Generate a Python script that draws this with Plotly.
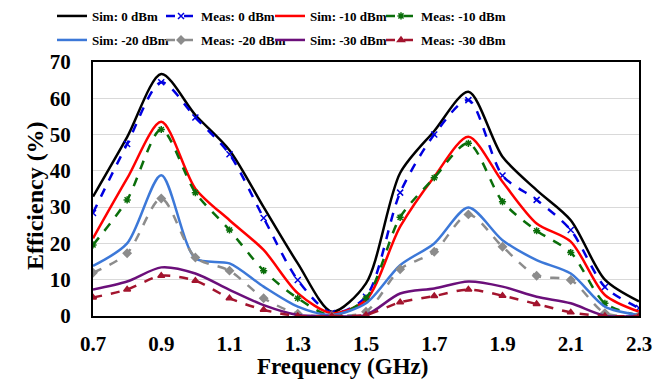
import plotly.graph_objects as go

freq = [0.7, 0.8, 0.9, 1.0, 1.1, 1.2, 1.3, 1.4, 1.5, 1.6, 1.7, 1.8, 1.9, 2.0, 2.1, 2.2, 2.3]

sim_0 = [32.9, 49.3, 66.7, 55.4, 45.7, 30.0, 14.5, 1.2, 9.0, 39.4, 51.0, 61.8, 43.9, 34.7, 26.4, 10.0, 4.0]
meas_0 = [28.4, 47.4, 64.4, 54.7, 44.6, 27.0, 9.9, 0.8, 5.3, 34.0, 50.0, 59.5, 38.7, 32.0, 23.7, 8.0, 2.2]
sim_10 = [21.4, 37.9, 53.5, 35.1, 26.4, 18.2, 6.3, 0.8, 4.4, 24.6, 38.4, 49.4, 37.0, 25.5, 20.5, 5.8, 1.2]
meas_10 = [19.6, 32.0, 51.4, 34.0, 23.7, 12.5, 4.9, 0.1, 4.9, 27.2, 38.1, 47.6, 31.5, 23.5, 17.5, 3.5, 0.1]
sim_20 = [13.8, 20.0, 38.8, 15.9, 14.5, 8.1, 2.6, 0.3, 3.5, 14.0, 20.0, 29.9, 20.9, 15.4, 11.7, 2.6, 0.3]
meas_20 = [11.9, 17.3, 32.4, 16.1, 12.5, 4.9, 0.6, 0.0, 1.2, 12.9, 17.7, 28.0, 19.1, 11.1, 9.9, 0.8, 0.0]
sim_30 = [7.3, 9.5, 13.4, 11.7, 7.2, 3.0, 0.3, 0.0, 0.3, 6.2, 7.6, 9.5, 8.1, 5.3, 3.5, 0.1, 0.0]
meas_30 = [5.1, 7.3, 11.1, 9.7, 4.9, 1.7, 0.0, 0.0, 0.3, 3.8, 5.5, 7.3, 5.6, 3.3, 1.0, 0.0, 0.0]

x_ticks = [0.7, 0.9, 1.1, 1.3, 1.5, 1.7, 1.9, 2.1, 2.3]
x_tick_labels = ["0.7", "0.9", "1.1", "1.3", "1.5", "1.7", "1.9", "2.1", "2.3"]

series = [
    ("Sim: 0 dBm", sim_0, "#000000", "solid", None),
    ("Meas: 0 dBm", meas_0, "#0000E0", "dash", "x-thin"),
    ("Sim: -10 dBm", sim_10, "#FF0000", "solid", None),
    ("Meas: -10 dBm", meas_10, "#0A6E0A", "dash", "asterisk"),
    ("Sim: -20 dBm", sim_20, "#3C78D8", "solid", None),
    ("Meas: -20 dBm", meas_20, "#8C8C8C", "dash", "diamond"),
    ("Sim: -30 dBm", sim_30, "#6B0F7A", "solid", None),
    ("Meas: -30 dBm", meas_30, "#A3142E", "dash", "triangle-up"),
]

font_family = "Liberation Serif"
W, H = 670, 387
col_px = [52, 161, 270, 381]
row_px = [16, 40]

fig = go.Figure()
legends = {}
for i, (name, vals, color, dash, sym) in enumerate(series):
    mode = "lines+markers" if sym else "lines"
    marker = dict(symbol=sym, size=6, color=color, line=dict(color=color, width=1.5)) if sym else None
    leg_name = "legend" if i == 0 else f"legend{i + 1}"
    fig.add_trace(go.Scatter(
        x=freq, y=vals, name=name, mode=mode,
        line=dict(color=color, width=2.5, dash=dash, shape="spline", smoothing=0.8),
        marker=marker,
        legend=leg_name,
    ))
    legends[leg_name] = dict(
        orientation="h", xref="container", yref="container",
        x=col_px[i % 4] / W, y=1 - row_px[i // 4] / H,
        xanchor="left", yanchor="middle",
        font=dict(family=font_family, size=13, color="black", weight="bold"),
        itemwidth=30, bgcolor="rgba(0,0,0,0)",
    )

fig.update_layout(
    width=W, height=H,
    margin=dict(l=93, r=31, t=62, b=71, autoexpand=False),
    paper_bgcolor="white", plot_bgcolor="white",
    font=dict(family=font_family, color="black"),
    showlegend=True,
    **legends,
)
fig.update_xaxes(
    range=[0.7, 2.3], tickvals=x_ticks, ticktext=x_tick_labels,
    showgrid=False, showline=True, linecolor="black", linewidth=2, mirror=True,
    ticks="", ticklabelstandoff=8,
    tickfont=dict(family=font_family, size=21, color="black", weight="bold"),
    zeroline=False,
)
fig.update_yaxes(
    range=[0, 70], dtick=10,
    showgrid=True, gridcolor="#D9D9D9", gridwidth=1,
    showline=True, linecolor="black", linewidth=2, mirror=True,
    ticks="", ticklabelstandoff=16,
    tickfont=dict(family=font_family, size=21, color="black", weight="bold"),
    zeroline=False,
)
fig.add_annotation(
    text="Frequency (GHz)", xref="paper", yref="paper",
    x=(342 - 93) / 546, y=(316 - 366) / 254, xanchor="center", yanchor="middle",
    showarrow=False, font=dict(family=font_family, size=23, color="black", weight="bold"),
)
fig.add_annotation(
    text="Efficiency (%)", xref="paper", yref="paper", textangle=-90,
    x=(35 - 93) / 546, y=(316 - 196) / 254, xanchor="center", yanchor="middle",
    showarrow=False, font=dict(family=font_family, size=24, color="black", weight="bold"),
)

fig.write_html("out.html")
